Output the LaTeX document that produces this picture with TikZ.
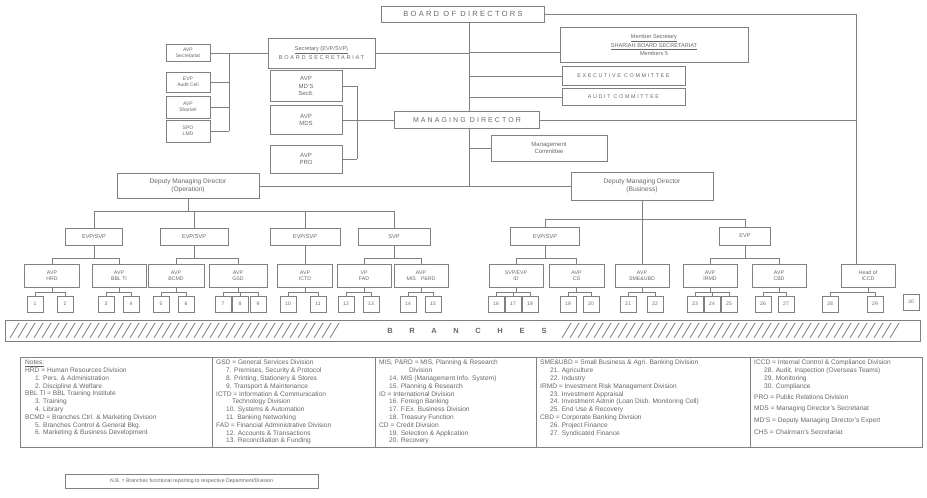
\documentclass[tikz,border=0pt]{standalone}
\usepackage{fontspec}
\setmainfont{Liberation Sans}
\newfontfamily\wide[LetterSpace=30]{Liberation Sans}
\definecolor{ink}{gray}{0.40}
\definecolor{rule}{gray}{0.50}
\tikzset{
  >=latex,
}
\tikzstyle{every node}=[font=\fontsize{5.6}{6.6}\selectfont,text=ink]
\tikzstyle{box}=[draw=rule,line width=.6pt,align=center,inner sep=1pt]
\tikzstyle{link}=[draw=rule,line width=.6pt]
\tikzstyle{unit}=[box,minimum width=54pt,minimum height=23pt,font=\fontsize{5.2}{6}\selectfont]
\tikzstyle{leaf}=[box,minimum width=16pt,minimum height=16pt,font=\fontsize{5}{6}\selectfont]
\tikzstyle{notes}=[anchor=north west,align=left,inner sep=0pt,font=\fontsize{6.6}{7.8}\selectfont]
\newcommand\notein{\hspace*{10pt}}

\begin{document}
\begin{tikzpicture}[x=1pt,y=-1pt]
  \useasboundingbox (0,0) rectangle (927,498);

  % top of the chart
  \node[box,minimum width=163pt,minimum height=16pt,font={\wide\fontsize{7.5}{9}\selectfont}] (bod) at (463,14) {BOARD OF DIRECTORS};
  \node[box,minimum width=107pt,minimum height=30pt] (sec) at (321.5,53) {\underline{Secretary (EVP/SVP)}\\[1pt]{\wide BOARD SECRETARIAT}};
  \node[box,minimum width=188pt,minimum height=35pt] (shb) at (654,45) {\underline{Member Secretary}\\[1pt]\underline{SHARIAH BOARD SECRETARIAT}\\[1pt]Members 5};
  \node[box,minimum width=123pt,minimum height=19pt,font={\wide\fontsize{5.4}{6}\selectfont}] (exc) at (623.5,76) {EXECUTIVE COMMITTEE};
  \node[box,minimum width=123pt,minimum height=17pt,font={\wide\fontsize{5.4}{6}\selectfont}] (aud) at (623.5,97) {AUDIT COMMITTEE};

  \node[box,minimum width=44pt,minimum height=17pt,font=\fontsize{5}{5.8}\selectfont] (sa) at (188,53) {AVP\\Secretariat};
  \node[box,minimum width=44pt,minimum height=20pt,font=\fontsize{5}{5.8}\selectfont] (sb) at (188,82) {EVP\\Audit Cell};
  \node[box,minimum width=44pt,minimum height=22pt,font=\fontsize{5}{5.8}\selectfont] (sc) at (188,107) {AVP\\Shariah};
  \node[box,minimum width=44pt,minimum height=22pt,font=\fontsize{5}{5.8}\selectfont] (sd) at (188,131) {SPO\\LMD};

  \node[box,minimum width=145pt,minimum height=17pt,font={\wide\fontsize{7}{8}\selectfont}] (md) at (467,120) {MANAGING DIRECTOR};
  \node[box,minimum width=72pt,minimum height=31pt,font=\fontsize{6}{7.2}\selectfont] (msa) at (306,86) {AVP\\MD'S\\Sectt.};
  \node[box,minimum width=72pt,minimum height=29pt,font=\fontsize{6}{7.2}\selectfont] (msb) at (306,120) {AVP\\MDS};
  \node[box,minimum width=72pt,minimum height=28pt,font=\fontsize{6}{7.2}\selectfont] (msc) at (306,159) {AVP\\PRO};
  \node[box,minimum width=116pt,minimum height=26pt,font=\fontsize{6}{7.2}\selectfont] (mgc) at (549,148) {Management\\Committee};

  \node[box,minimum width=142pt,minimum height=25pt,font=\fontsize{6.6}{7.8}\selectfont] (dmo) at (188,186) {Deputy Managing Director\\(Operation)};
  \node[box,minimum width=142pt,minimum height=28pt,font=\fontsize{6.6}{7.8}\selectfont] (dmb) at (642,186) {Deputy Managing Director\\(Business)};

  \coordinate (tk) at (469,0);
  \coordinate (lb) at (229,0);
  \coordinate (mb) at (357,0);
  \coordinate (rt) at (856,0);
  \coordinate (j1) at (469,52);

  \draw[link] (bod.south -| tk) -- (md.north -| tk);
  \draw[link] (md.south -| tk) -- (dmo.east -| tk);
  \draw[link] (sec.east) -- (sec.east -| tk);
  \draw[link] (j1) -- (j1 -| shb.west);
  \draw[link] (exc.west -| tk) -- (exc.west);
  \draw[link] (aud.west -| tk) -- (aud.west);
  \draw[link] (mgc.west -| tk) -- (mgc.west);
  \draw[link] (dmo.east) -- (dmb.west);
  \foreach \s in {sa,sb,sc,sd}
    \draw[link] (\s.east) -- (\s.east -| lb);
  \draw[link] (sa.east -| lb) -- (sd.east -| lb);
  \draw[link] (sec.west) -- (sec.west -| lb);
  \foreach \s in {msa,msb,msc}
    \draw[link] (\s.east) -- (\s.east -| mb);
  \draw[link] (msa.east -| mb) -- (msc.east -| mb);
  \draw[link] (msb.east) -- (md.west);
  \draw[link] (md.east) -- (md.east -| rt);

  % vice presidents
  \node[box,minimum width=57pt,minimum height=17pt] (e1) at (94,236.5) {EVP/SVP};
  \node[box,minimum width=68pt,minimum height=17pt] (e2) at (194,236.5) {EVP/SVP};
  \node[box,minimum width=70pt,minimum height=17pt] (e3) at (305,236.5) {EVP/SVP};
  \node[box,minimum width=72pt,minimum height=17pt] (e4) at (394,236.5) {SVP};
  \node[box,minimum width=69pt,minimum height=18pt] (f1) at (545,236) {EVP/SVP};
  \node[box,minimum width=51pt,minimum height=18pt] (f2) at (745,236) {EVP};

  \coordinate (ob) at (0,211);
  \coordinate (bb) at (0,219);
  \draw[link] (dmo.south) -- (dmo.south |- ob);
  \draw[link] (e1.north |- ob) -- (e4.north |- ob);
  \foreach \e in {e1,e2,e3,e4}
    \draw[link] (\e.north |- ob) -- (\e.north);
  \draw[link] (f1.north |- bb) -- (f2.north |- bb);
  \foreach \e in {f1,f2}
    \draw[link] (\e.north |- bb) -- (\e.north);

  % divisions
  \node[unit,minimum width=55pt] (hrd) at (52,276) {AVP\\HRD};
  \node[unit] (bti) at (119,276) {AVP\\BBL TI};
  \node[unit,minimum width=56pt] (bcm) at (176,276) {AVP\\BCMD};
  \node[unit,minimum width=58pt] (gsd) at (238,276) {AVP\\GSD};
  \node[unit,minimum width=55pt] (ict) at (305,276) {AVP\\ICTD};
  \node[unit] (fad) at (364,276) {VP\\FAD};
  \node[unit] (mis) at (421,276) {AVP\\MIS\quad P\&RD};
  \node[unit] (idv) at (516,276) {SVP/EVP\\ID};
  \node[unit,minimum width=55pt] (cdv) at (576.5,276) {AVP\\CD};
  \node[unit] (sme) at (642,276) {AVP\\SME\&UBD};
  \node[unit] (irm) at (710,276) {AVP\\IRMD};
  \node[unit] (cbd) at (779,276) {AVP\\CBD};
  \node[unit] (icc) at (868,276) {Head of\\ICCD};

  \draw[link] (bod.east) -| (rt |- icc.north);

  \coordinate (ub) at (0,258);
  \foreach \p/\a/\b in {e1/hrd/bti,e2/bcm/gsd,e4/fad/mis,f1/idv/cdv,f2/irm/cbd} {
    \draw[link] (\p.south) -- (\p.south |- ub);
    \draw[link] (\a.north |- ub) -- (\b.north |- ub);
    \draw[link] (\a.north |- ub) -- (\a.north);
    \draw[link] (\b.north |- ub) -- (\b.north);
  }
  \draw[link] (e3.south) -- (ict.north);
  \draw[link] (dmb.south) -- (sme.north);

  % departments
  \foreach \n/\x in {1/35,2/65,3/106,4/131,5/161,6/186,7/223,8/240,9/258,10/288,
    11/318,12/346,13/371,14/408,15/433,16/496,17/513,18/530,19/568,20/591,
    21/628,22/655,23/695,24/712,25/729,26/763,27/786,28/830,29/875}
    \node[leaf] (l\n) at (\x,304) {\n};
  \node[leaf] (l30) at (911,302) {30};

  \coordinate (lb2) at (0,292);
  \foreach \u/\a/\b in {hrd/1/2,bti/3/4,bcm/5/6,gsd/7/9,ict/10/11,fad/12/13,mis/14/15,
    idv/16/18,cdv/19/20,sme/21/22,irm/23/25,cbd/26/27,icc/28/29} {
    \draw[link] (\u.south) -- (\u.south |- lb2);
    \draw[link] (l\a.north |- lb2) -- (l\b.north |- lb2);
  }
  \foreach \n in {1,...,29}
    \draw[link] (l\n.north |- lb2) -- (l\n.north);

  % branches
  \draw[link] (5,320) rectangle (920,341);
  \foreach \x in {10,18,...,335}
    \draw[rule,line width=.8pt] (\x,338) -- (\x+9,323);
  \foreach \x in {562,570,...,890}
    \draw[rule,line width=.8pt] (\x,338) -- (\x+9,323);
  \foreach \c [count=\i] in {B,R,A,N,C,H,E,S}
    \node[font=\fontsize{7.5}{8}\selectfont\bfseries] (br\i) at (368+\i*22,330.5) {\c};

  % notes
  \draw[link] (20,357) rectangle (922,447);
  \foreach \x in {212,375,536,750}
    \draw[link] (\x,357) -- (\x,447);
  \node[notes] (n1) at (25,360) {\underline{Notes:}\\
    HRD = Human Resources Division\\
    \notein 1. Pers. \& Administration\\
    \notein 2. Discipline \& Welfare\\
    BBL TI = BBL Training Institute\\
    \notein 3. Training\\
    \notein 4. Library\\
    BCMD = Branches Ctrl. \& Marketing Division\\
    \notein 5. Branches Control \& General Bkg.\\
    \notein 6. Marketing \& Business Development};
  \node[notes] (n2) at (216,360) {GSD = General Services Division\\
    \notein 7. Premises, Security \& Protocol\\
    \notein 8. Printing, Stationery \& Stores\\
    \notein 9. Transport \& Maintenance\\
    ICTD = Information \& Communication\\
    \notein\hspace*{6pt}Technology Division\\
    \notein 10. Systems \& Automation\\
    \notein 11. Banking Networking\\
    FAD = Financial Administrative Division\\
    \notein 12. Accounts \& Transactions\\
    \notein 13. Reconciliation \& Funding};
  \node[notes] (n3) at (379,360) {MIS, P\&RD = MIS, Planning \& Research\\
    \notein\hspace*{20pt}Division\\
    \notein 14. MIS (Management Info. System)\\
    \notein 15. Planning \& Research\\
    ID = International Division\\
    \notein 16. Foreign Banking\\
    \notein 17. F.Ex. Business Division\\
    \notein 18. Treasury Function\\
    CD = Credit Division\\
    \notein 19. Selection \& Application\\
    \notein 20. Recovery};
  \node[notes] (n4) at (540,360) {SME\&UBD = Small Business \& Agri. Banking Division\\
    \notein 21. Agriculture\\
    \notein 22. Industry\\
    IRMD = Investment Risk Management Division\\
    \notein 23. Investment Appraisal\\
    \notein 24. Investment Admin (Loan Disb. Monitoring Cell)\\
    \notein 25. End Use \& Recovery\\
    CBD = Corporate Banking Division\\
    \notein 26. Project Finance\\
    \notein 27. Syndicated Finance};
  \node[notes] (n5) at (754,360) {ICCD = Internal Control \& Compliance Division\\
    \notein 28. Audit, Inspection (Overseas Teams)\\
    \notein 29. Monitoring\\
    \notein 30. Compliance\\[3pt]
    PRO = Public Relations Division\\[4pt]
    MDS = Managing Director's Secretariat\\[4pt]
    MD'S = Deputy Managing Director's Expert\\[4pt]
    CHS = Chairman's Secretariat};

  \node[box,minimum width=253pt,minimum height=14pt,font=\fontsize{5.2}{6}\selectfont] (nb) at (191.5,481.5) {N.B. = Branches functional reporting to respective Department/Division};
\end{tikzpicture}
\end{document}
